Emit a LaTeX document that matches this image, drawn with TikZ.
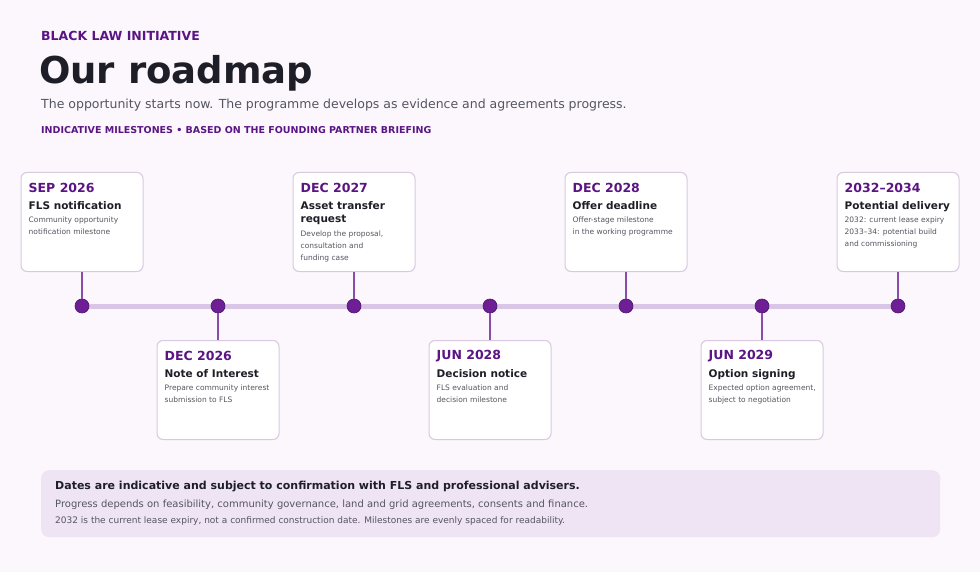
\documentclass[tikz,border=0pt]{standalone}
\usepackage{fontspec}
\setmainfont{DejaVu Sans}
\begin{document}
\definecolor{bg}{HTML}{FBF7FD}
\definecolor{pur}{HTML}{5B1483}
\definecolor{dot}{HTML}{6E1F96}
\definecolor{trk}{HTML}{D9C6E6}
\definecolor{bord}{HTML}{D8C8E2}
\definecolor{ink}{HTML}{1E1E28}
\definecolor{gry}{HTML}{555560}
\definecolor{note}{HTML}{EFE4F4}
\begin{tikzpicture}[x=1pt,y=-1pt,
  card/.style={draw=bord,line width=1pt,fill=white,rounded corners=6pt,minimum width=122pt,minimum height=99pt,inner sep=0pt},
  date/.style={anchor=west,inner sep=0pt,text=pur,font=\fontsize{12.5}{14}\selectfont\bfseries},
  ttl/.style={anchor=north west,inner sep=0pt,text=ink,align=left,font=\fontsize{10.5}{13.5}\selectfont\bfseries},
  dsc/.style={anchor=north west,inner sep=0pt,text=gry,align=left,font=\fontsize{7.5}{12}\selectfont},
  stem/.style={draw=dot!80,line width=1.2pt},
  mk/.style={circle,fill=dot,draw=dot!70!black,line width=0.6pt,minimum size=14pt,inner sep=0pt}]
\fill[bg] (0,0) rectangle (980,572);
\useasboundingbox (0,0) rectangle (980,572);
\node[anchor=west,inner sep=0pt,text=pur,font=\fontsize{12.5}{14}\selectfont\bfseries] (org) at (41,36) {BLACK LAW INITIATIVE};
\node[anchor=west,inner sep=0pt,text=ink,font=\fontsize{37}{40}\selectfont\bfseries] (hd) at (39,73) {Our roadmap};
\node[anchor=west,inner sep=0pt,text=gry,font=\fontsize{12.5}{14}\selectfont] (sub) at (41,105) {The opportunity starts now. The programme develops as evidence and agreements progress.};
\node[anchor=west,inner sep=0pt,text=pur,font=\fontsize{9.5}{11}\selectfont\bfseries] (tag) at (41,130) {INDICATIVE MILESTONES • BASED ON THE FOUNDING PARTNER BRIEFING};
\coordinate (ls) at (82,306); \coordinate (le) at (898,306);
\draw[trk,line width=5pt] (ls) -- (le);
% generic milestone
\def\ms#1#2#3#4#5#6{%
  \ifnum#3=0 \node[card,anchor=north] (c#1) at (#2,172) {};\else \node[card,anchor=north] (c#1) at (#2,340) {};\fi
  \node[date] (d#1) at ([xshift=8pt,yshift=-16pt]c#1.north west) {#4};
  \node[ttl] (t#1) at ([xshift=8pt,yshift=-29pt]c#1.north west) {#5};
  \node[dsc] (x#1) at ([xshift=8pt,yshift=#6]c#1.north west) {\parbox{115pt}{\raggedright #6}};
}
\def\mstone#1#2#3#4#5#6#7{%
  \ifnum#3=0 \node[card,anchor=north] (c#1) at (#2,172) {};\else \node[card,anchor=north] (c#1) at (#2,340) {};\fi
  \node[date] (d#1) at ([xshift=8pt,yshift=-16pt]c#1.north west) {#4};
  \node[ttl] (t#1) at ([xshift=8pt,yshift=-29pt]c#1.north west) {#5};
  \node[dsc] (x#1) at ([xshift=8pt,yshift=-#7pt]c#1.north west) {#6};
  \node[mk] (m#1) at (#2,306) {};
  \ifnum#3=0 \draw[stem] (c#1.south) -- (m#1.north);\else \draw[stem] (c#1.north) -- (m#1.south);\fi
}
\mstone{1}{82}{0}{SEP 2026}{FLS notification}{Community opportunity\\notification milestone}{45}
\mstone{2}{218}{1}{DEC 2026}{Note of Interest}{Prepare community interest\\submission to FLS}{45}
\mstone{3}{354}{0}{DEC 2027}{Asset transfer\\request}{Develop the proposal,\\consultation and\\funding case}{59}
\mstone{4}{490}{1}{JUN 2028}{Decision notice}{FLS evaluation and\\decision milestone}{45}
\mstone{5}{626}{0}{DEC 2028}{Offer deadline}{Offer-stage milestone\\in the working programme}{45}
\mstone{6}{762}{1}{JUN 2029}{Option signing}{Expected option agreement,\\subject to negotiation}{45}
\mstone{7}{898}{0}{2032–2034}{Potential delivery}{2032: current lease expiry\\2033–34: potential build\\and commissioning}{45}
\node[fill=note,rounded corners=8pt,minimum width=899pt,minimum height=67pt,anchor=north west,inner sep=0pt] (nb) at (41,470) {};
\node[anchor=west,inner sep=0pt,text=ink,font=\fontsize{11}{13}\selectfont\bfseries] (n1) at (55,487) {Dates are indicative and subject to confirmation with FLS and professional advisers.};
\node[anchor=west,inner sep=0pt,text=gry,font=\fontsize{10}{12}\selectfont] (n2) at (55,505) {Progress depends on feasibility, community governance, land and grid agreements, consents and finance.};
\node[anchor=west,inner sep=0pt,text=gry,font=\fontsize{9}{11}\selectfont] (n3) at (55,521) {2032 is the current lease expiry, not a confirmed construction date. Milestones are evenly spaced for readability.};
\end{tikzpicture}
\end{document}
